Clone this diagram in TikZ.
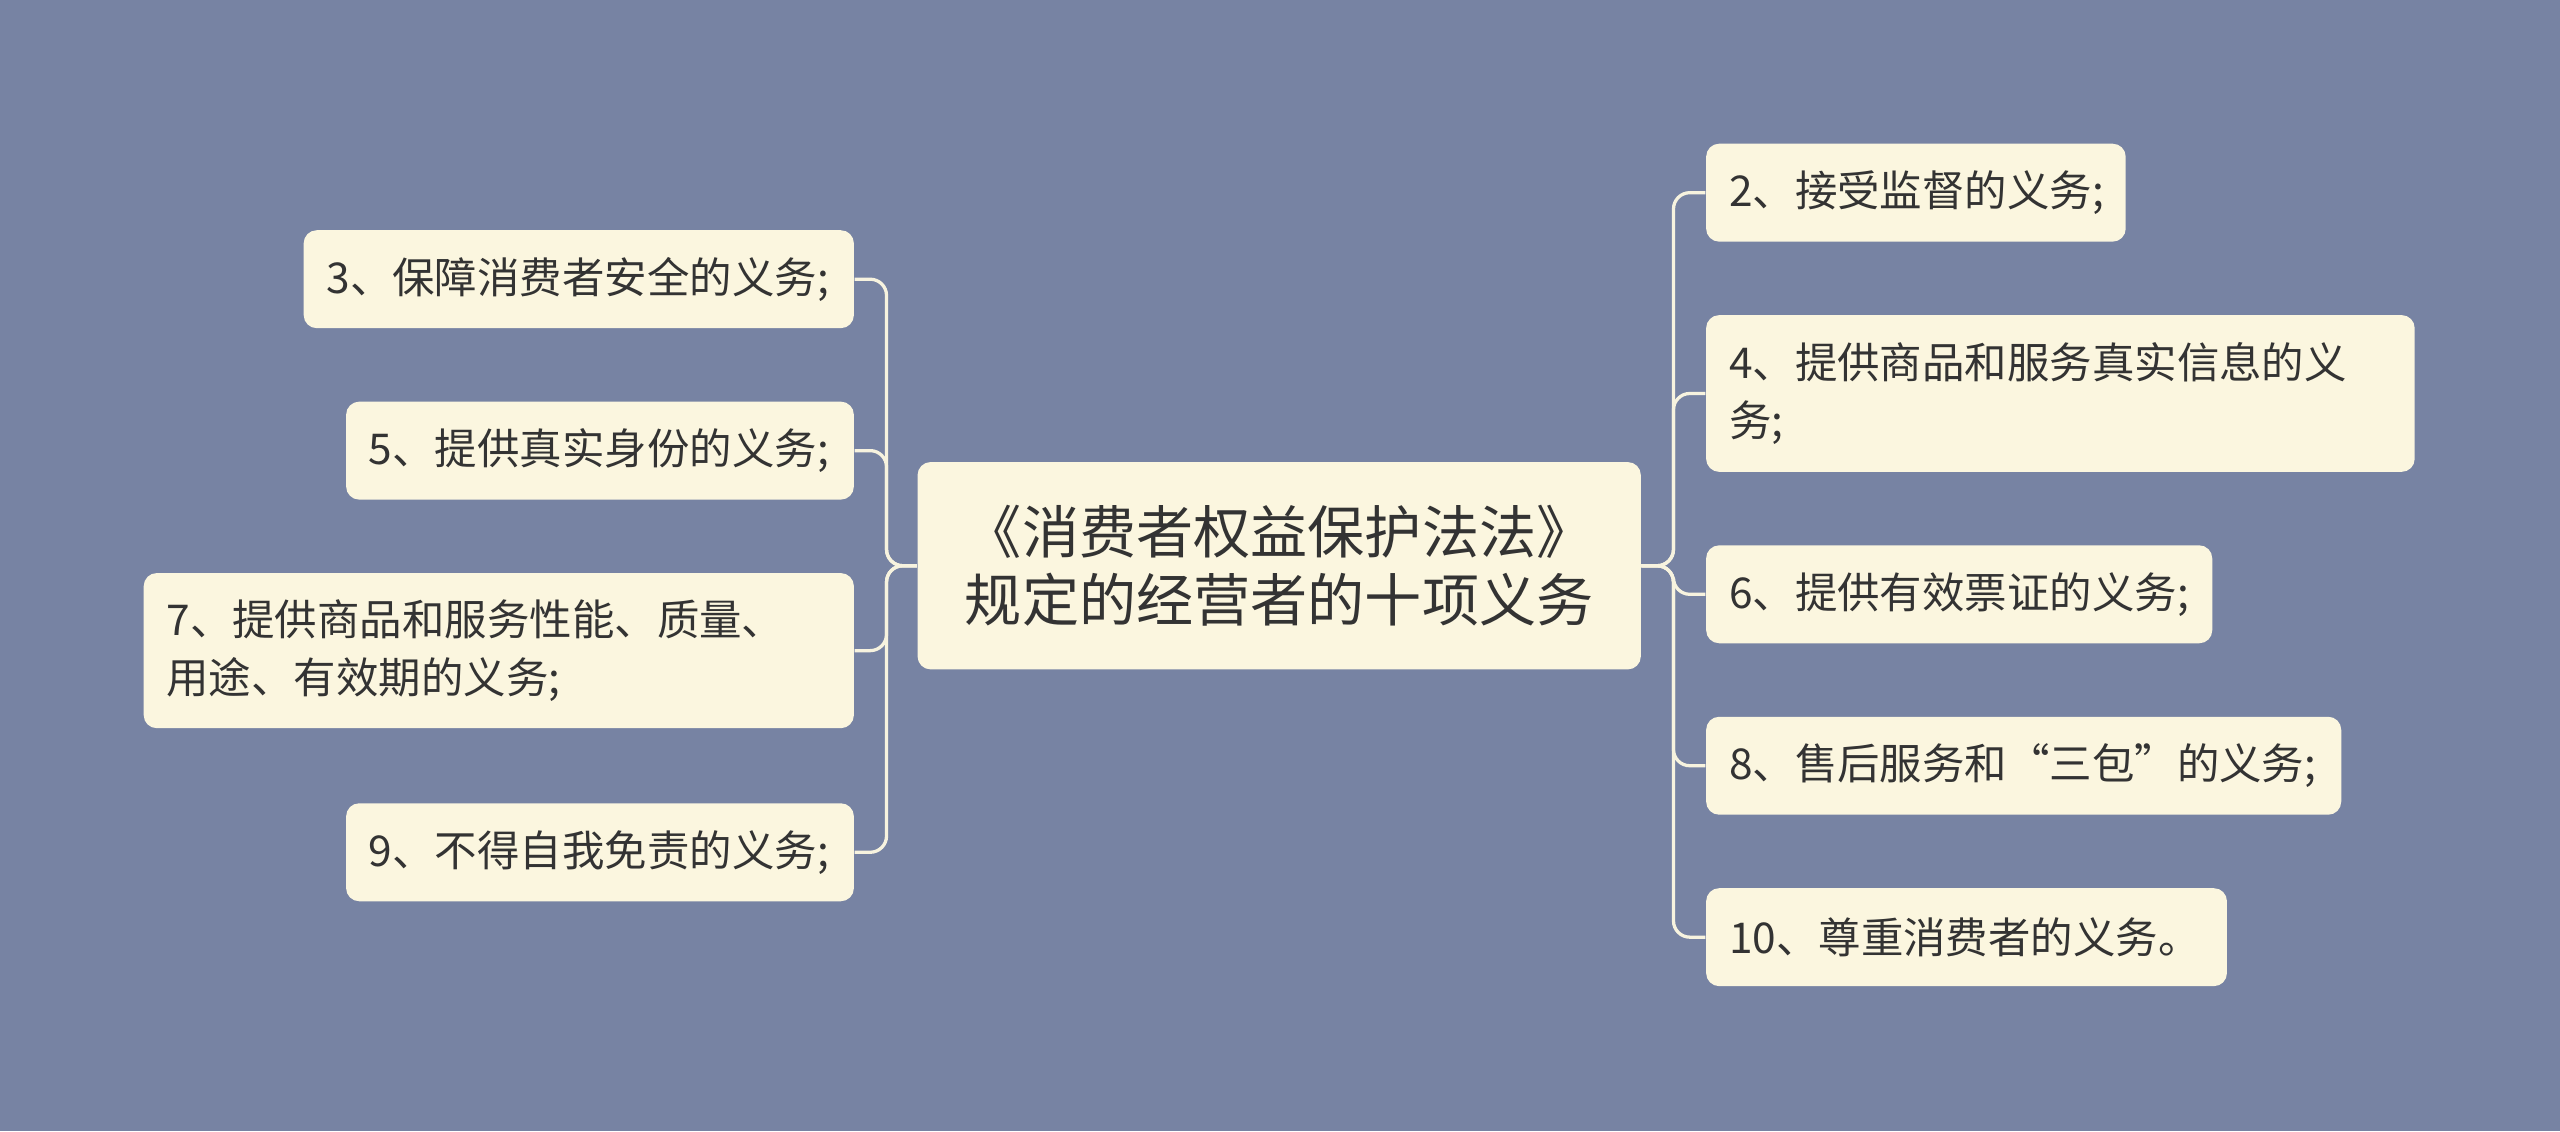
\documentclass[tikz,border=0pt]{standalone}
\usepackage{fontspec}
\setmainfont{Noto Sans CJK SC}
\definecolor{bg}{HTML}{7783A3}
\definecolor{boxc}{HTML}{FBF6DF}
\definecolor{linec}{HTML}{F7F3DF}
\definecolor{txt}{HTML}{333333}
\tikzset{
 box/.style={fill=boxc, rounded corners=4pt, inner xsep=7pt, inner ysep=0pt, align=left, text=txt, font=\fontsize{13}{17.5}\selectfont},
 conn/.style={draw=linec, line width=1pt, rounded corners=5pt},
}
\begin{document}
\begin{tikzpicture}[x=0.5pt,y=-0.5pt]
\fill[bg] (0,0) rectangle (1568,693);
\useasboundingbox (0,0) rectangle (1568,693);
\node[box, align=center, font=\fontsize{17.5}{21}\selectfont, minimum width=221.5pt, minimum height=63.5pt] (c) at (783.5,346.5) {《消费者权益保护法法》\\规定的经营者的十项义务};
\node[box, minimum width=168.5pt, minimum height=30pt, text width=154.5pt] (n3) at (354.5,171) {3、保障消费者安全的义务;};
\node[box, minimum width=155.5pt, minimum height=30pt, text width=141.5pt] (n5) at (367.5,276) {5、提供真实身份的义务;};
\node[box, minimum width=217.5pt, minimum height=47.5pt, text width=203.5pt] (n7) at (305.5,398.5) {7、提供商品和服务性能、质量、\\用途、有效期的义务;};
\node[box, minimum width=155.5pt, minimum height=30pt, text width=141.5pt] (n9) at (367.5,522) {9、不得自我免责的义务;};
\node[box, minimum width=128.5pt, minimum height=30pt, text width=114.5pt] (n2) at (1173.5,118) {2、接受监督的义务;};
\node[box, minimum width=217pt, minimum height=48pt, text width=203pt] (n4) at (1262,241) {4、提供商品和服务真实信息的义\\务;};
\node[box, minimum width=155pt, minimum height=30pt, text width=141pt] (n6) at (1200,364) {6、提供有效票证的义务;};
\node[box, minimum width=194.5pt, minimum height=30pt, text width=180.5pt] (n8) at (1239.5,469) {8、售后服务和“三包”的义务;};
\node[box, minimum width=159.5pt, minimum height=30pt, text width=145.5pt] (n10) at (1204.5,574) {10、尊重消费者的义务。};
\coordinate (tl) at (543,346.5);
\coordinate (tr) at (1025,346.5);
\foreach \n in {n3,n5,n7,n9} \draw[conn] (c.west) -- (tl) |- (\n.east);
\foreach \n in {n2,n4,n6,n8,n10} \draw[conn] (c.east) -- (tr) |- (\n.west);
\end{tikzpicture}
\end{document}
